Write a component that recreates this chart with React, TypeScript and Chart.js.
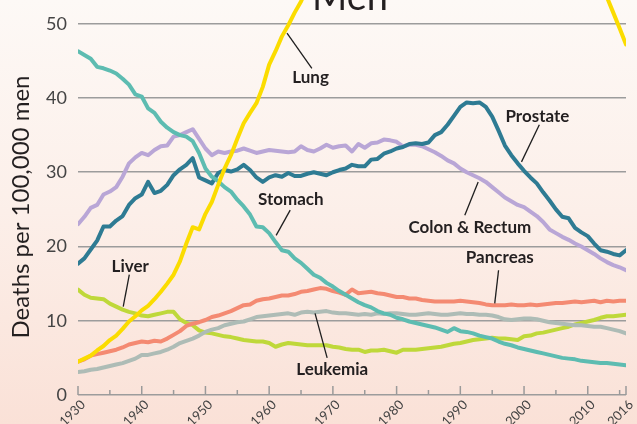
import React, { useEffect, useRef } from "react";
import { Chart, registerables } from "chart.js";

Chart.register(...registerables);

const years: number[] = [];
for (let y = 1930; y <= 2016; y++) years.push(y);

const lung = [4.5,4.9,5.3,6.0,6.6,7.4,8.0,8.9,9.9,10.6,11.4,12.0,12.9,13.9,15.0,16.2,18.0,20.4,22.6,22.3,24.4,26.0,28.3,30.5,32.3,34.5,36.6,38.0,39.3,41.5,44.5,46.3,48.3,49.8,51.5,53.0,55.0,57.5,59.5,61.5,63.0,64.5,66.0,67.5,69.0,70.5,72.5,74.0,75.5,77.0,78.5,80.0,82.0,83.5,85.0,86.5,87.5,88.5,89.5,90.0,90.5,90.2,89.5,88.5,87.5,86.5,85.0,83.5,82.0,80.0,78.0,76.0,74.0,72.0,70.0,68.5,67.0,65.5,63.5,62.0,60.0,58.0,55.8,53.6,51.5,49.4,47.2];
const stomach = [46.3,45.8,45.3,44.2,44.0,43.7,43.3,42.6,41.8,40.5,40.2,38.6,38.0,36.8,36.0,35.4,35.0,34.8,34.2,32.6,30.5,29.4,28.8,28.0,27.4,26.3,25.4,24.3,22.7,22.6,21.8,20.6,19.5,19.3,18.4,17.8,17.0,16.2,15.8,15.1,14.6,14.0,13.5,13.0,12.5,12.1,11.8,11.3,11.0,10.8,10.4,10.2,9.9,9.7,9.5,9.3,9.1,8.8,8.5,9.0,8.6,8.5,8.3,8.0,7.8,7.6,7.2,6.9,6.7,6.4,6.2,6.0,5.8,5.6,5.4,5.2,5.0,4.9,4.8,4.6,4.5,4.4,4.3,4.3,4.2,4.1,4.0];
const prostate = [17.7,18.4,19.6,20.8,22.7,22.7,23.5,24.1,25.6,26.5,27.0,28.7,27.2,27.5,28.3,29.6,30.4,31.0,31.9,29.3,28.9,28.5,29.9,30.3,30.1,30.4,31.0,30.3,29.3,28.7,29.3,29.6,29.4,29.9,29.5,29.5,29.8,30.0,29.8,29.6,30.0,30.3,30.5,31.0,30.8,30.8,31.7,31.8,32.5,32.8,33.2,33.4,33.8,33.9,33.8,34.0,35.0,35.4,36.4,37.6,38.8,39.4,39.3,39.4,38.8,37.5,35.6,33.6,32.3,31.2,30.2,29.3,28.5,27.3,26.2,25.0,24.0,23.8,22.5,21.9,21.4,20.4,19.5,19.3,19.0,18.8,19.5];
const colon = [23.0,24.0,25.2,25.6,27.0,27.4,28.0,29.4,31.2,32.0,32.6,32.3,33.0,33.5,33.6,34.8,35.0,35.4,35.8,34.5,33.2,32.3,32.8,32.6,32.8,32.9,33.2,32.9,32.6,32.8,33.0,32.9,32.8,32.7,32.8,33.5,33.0,32.8,33.2,33.7,33.3,33.5,33.6,32.8,33.8,33.3,33.9,34.0,34.4,34.3,34.1,33.5,33.7,33.7,33.5,33.1,32.7,32.2,31.6,31.2,30.5,30.0,29.6,29.2,28.7,28.0,27.3,26.6,26.1,25.6,25.3,24.7,24.1,23.3,22.3,21.8,21.3,20.9,20.4,20.0,19.5,19.0,18.4,17.9,17.5,17.2,16.8];
const pancreas = [4.5,4.8,5.3,5.5,5.7,5.9,6.1,6.4,6.8,7.0,7.2,7.1,7.3,7.2,7.6,8.1,8.6,9.3,9.6,9.8,10.1,10.5,10.7,11.0,11.3,11.7,12.1,12.2,12.7,12.9,13.0,13.2,13.4,13.4,13.6,13.9,14.0,14.2,14.4,14.3,14.0,13.8,13.5,14.2,13.7,13.8,13.9,13.7,13.6,13.4,13.2,13.2,13.0,13.0,12.8,12.7,12.6,12.6,12.6,12.6,12.7,12.6,12.5,12.4,12.2,12.1,12.1,12.1,12.2,12.1,12.1,12.2,12.1,12.2,12.3,12.4,12.4,12.5,12.6,12.5,12.6,12.7,12.5,12.7,12.6,12.7,12.7];
const leukemia = [3.1,3.2,3.4,3.5,3.7,3.9,4.1,4.3,4.6,4.9,5.4,5.4,5.6,5.8,6.1,6.5,7.0,7.3,7.6,8.0,8.5,8.8,9.0,9.4,9.6,9.8,9.9,10.2,10.5,10.6,10.7,10.8,10.9,11.0,10.8,11.1,11.2,11.1,11.2,11.3,11.1,11.0,11.0,10.9,10.8,10.9,10.8,11.0,10.9,11.0,11.0,10.9,10.8,10.8,10.9,11.0,10.9,10.8,10.8,10.9,11.0,10.9,10.9,10.8,10.8,10.7,10.5,10.2,10.1,10.2,10.3,10.3,10.2,10.0,9.8,9.7,9.6,9.5,9.4,9.4,9.3,9.2,9.2,9.0,8.8,8.6,8.3];
const liver = [14.2,13.5,13.1,13.0,12.9,12.3,11.9,11.5,11.2,11.0,10.7,10.6,10.8,11.0,11.2,11.2,10.2,9.7,9.4,8.7,8.4,8.3,8.1,7.9,7.8,7.6,7.4,7.3,7.2,7.2,7.0,6.5,6.8,7.0,6.9,6.8,6.7,6.7,6.7,6.7,6.5,6.4,6.2,6.1,6.1,5.8,6.0,6.0,6.1,5.9,5.7,6.1,6.1,6.1,6.2,6.3,6.4,6.5,6.7,6.9,7.0,7.2,7.4,7.5,7.6,7.7,7.6,7.6,7.5,7.4,7.9,8.0,8.3,8.4,8.6,8.8,9.0,9.2,9.5,9.7,9.9,10.1,10.4,10.6,10.6,10.7,10.8];

const seriesNames = ["Lung", "Stomach", "Prostate", "Colon & Rectum", "Pancreas", "Leukemia", "Liver"];
const seriesValues = [lung, stomach, prostate, colon, pancreas, leukemia, liver];
const seriesColors = ["#fbdc00", "#5dbcb1", "#2e7b93", "#b9a6d6", "#f48a72", "#aebcb6", "#bfd83a"];

const xTickLabels = [1930, 1940, 1950, 1960, 1970, 1980, 1990, 2000, 2010, 2016];
const xMinorTicks = [1935, 1945, 1955, 1965, 1975, 1985, 1995, 2005, 2015];
const yTickLabels = [0, 10, 20, 30, 40, 50];
const yAxisTitle = "Deaths per 100,000 men";
const chartTitle = "Men";

// callouts: label, text center (year, value), leader from (year,value) to (year,value)
const calloutLabels = ["Lung", "Stomach", "Liver", "Leukemia", "Prostate", "Colon & Rectum", "Pancreas"];
const calloutText = [[1966.5, 42.8], [1963.4, 26.3], [1938.2, 17.3], [1969.9, 3.4], [2002.1, 37.5], [1991.5, 22.5], [1996.2, 18.45]];
const calloutLeaders = [
  [1962.8, 48.75, 1966.7, 44.0],
  [1963.3, 24.9, 1961.1, 21.5],
  [1938.05, 16.2, 1937.1, 11.9],
  [1967.2, 11.0, 1969.1, 5.0],
  [2002.4, 36.4, 1999.6, 31.4],
  [1992.8, 28.7, 1990.7, 24.2],
  [1996.0, 16.8, 1995.4, 12.35],
];

const FONT = "Lato, 'Open Sans', sans-serif";

const overlayPlugin = {
  id: "overlay",
  afterDatasetsDraw(chart: any) {
    const { ctx, scales } = chart;
    const xs = scales.x;
    const ys = scales.y;
    ctx.save();
    ctx.strokeStyle = "#9a9a9a";
    ctx.lineWidth = 1.5;
    const base = ys.getPixelForValue(0);
    xTickLabels.forEach((yr) => {
      const px = xs.getPixelForValue(yr);
      ctx.beginPath();
      ctx.moveTo(px, base);
      ctx.lineTo(px, base - 9);
      ctx.stroke();
    });
    xMinorTicks.forEach((yr) => {
      const px = xs.getPixelForValue(yr);
      ctx.beginPath();
      ctx.moveTo(px, base);
      ctx.lineTo(px, base - 5);
      ctx.stroke();
    });
    ctx.strokeStyle = "#1e1e1e";
    ctx.lineWidth = 1.3;
    calloutLeaders.forEach((l) => {
      ctx.beginPath();
      ctx.moveTo(xs.getPixelForValue(l[0]), ys.getPixelForValue(l[1]));
      ctx.lineTo(xs.getPixelForValue(l[2]), ys.getPixelForValue(l[3]));
      ctx.stroke();
    });
    ctx.fillStyle = "#231f20";
    ctx.font = `bold 17px ${FONT}`;
    ctx.textAlign = "center";
    ctx.textBaseline = "middle";
    calloutLabels.forEach((t, i) => {
      ctx.fillText(t, xs.getPixelForValue(calloutText[i][0]), ys.getPixelForValue(calloutText[i][1]));
    });
    // y axis title
    ctx.save();
    ctx.translate(21, 207);
    ctx.rotate(-Math.PI / 2);
    ctx.font = `24px ${FONT}`;
    ctx.fillText(yAxisTitle, 0, 0);
    ctx.restore();
    // partially visible title
    ctx.font = `38px ${FONT}`;
    ctx.textBaseline = "alphabetic";
    ctx.fillText(chartTitle, 350, 10);
    ctx.restore();
  },
};

export default function App() {
  const ref = useRef<HTMLCanvasElement | null>(null);
  useEffect(() => {
    document.body.style.margin = "0";
    const canvas = ref.current!;
    const chart = new Chart(canvas, {
      type: "line",
      data: {
        datasets: seriesNames.map((name, i) => ({
          label: name,
          data: years.map((yr, j) => ({ x: yr, y: seriesValues[i][j] })),
          borderColor: seriesColors[i],
          backgroundColor: seriesColors[i],
          borderWidth: 4,
          pointRadius: 0,
          tension: 0,
          borderJoinStyle: "round" as const,
          borderCapStyle: "round" as const,
        })),
      },
      options: {
        animation: false,
        responsive: true,
        maintainAspectRatio: false,
        layout: { padding: { left: 0, right: 11, top: 0, bottom: 0 } },
        plugins: { legend: { display: false }, tooltip: { enabled: false }, title: { display: false } },
        scales: {
          x: {
            type: "linear",
            min: 1930,
            max: 2016,
            grid: { display: false, drawTicks: false },
            border: { display: false },
            afterBuildTicks: (s: any) => {
              s.ticks = xTickLabels.map((v) => ({ value: v }));
            },
            afterFit: (s: any) => {
              s.height = 29;
              s.paddingLeft = 0;
              s.paddingRight = 0;
            },
            ticks: {
              autoSkip: false,
              minRotation: 45,
              maxRotation: 45,
              padding: 2,
              labelOffset: 5,
              color: "#444",
              font: { family: FONT, size: 13 },
              callback: (v: any) => String(v),
            },
          },
          y: {
            type: "linear",
            min: 0,
            max: 53.2,
            grid: { color: "#9c9c9c", lineWidth: 1.6, drawTicks: false },
            border: { display: false },
            afterBuildTicks: (s: any) => {
              s.ticks = yTickLabels.map((v) => ({ value: v }));
            },
            afterFit: (s: any) => {
              s.width = 78;
              s.paddingTop = 0;
              s.paddingBottom = 0;
            },
            ticks: {
              padding: 11,
              color: "#444",
              font: { family: FONT, size: 18 },
            },
          },
        },
      },
      plugins: [overlayPlugin],
    });
    return () => chart.destroy();
  }, []);
  return (
    <div
      style={{
        position: "fixed",
        left: 0,
        top: 0,
        width: 637,
        height: 424,
        background: "linear-gradient(to bottom, #fdf9f6 0%, #fcefe9 50%, #fae1d7 100%)",
      }}
    >
      <canvas ref={ref} />
    </div>
  );
}
